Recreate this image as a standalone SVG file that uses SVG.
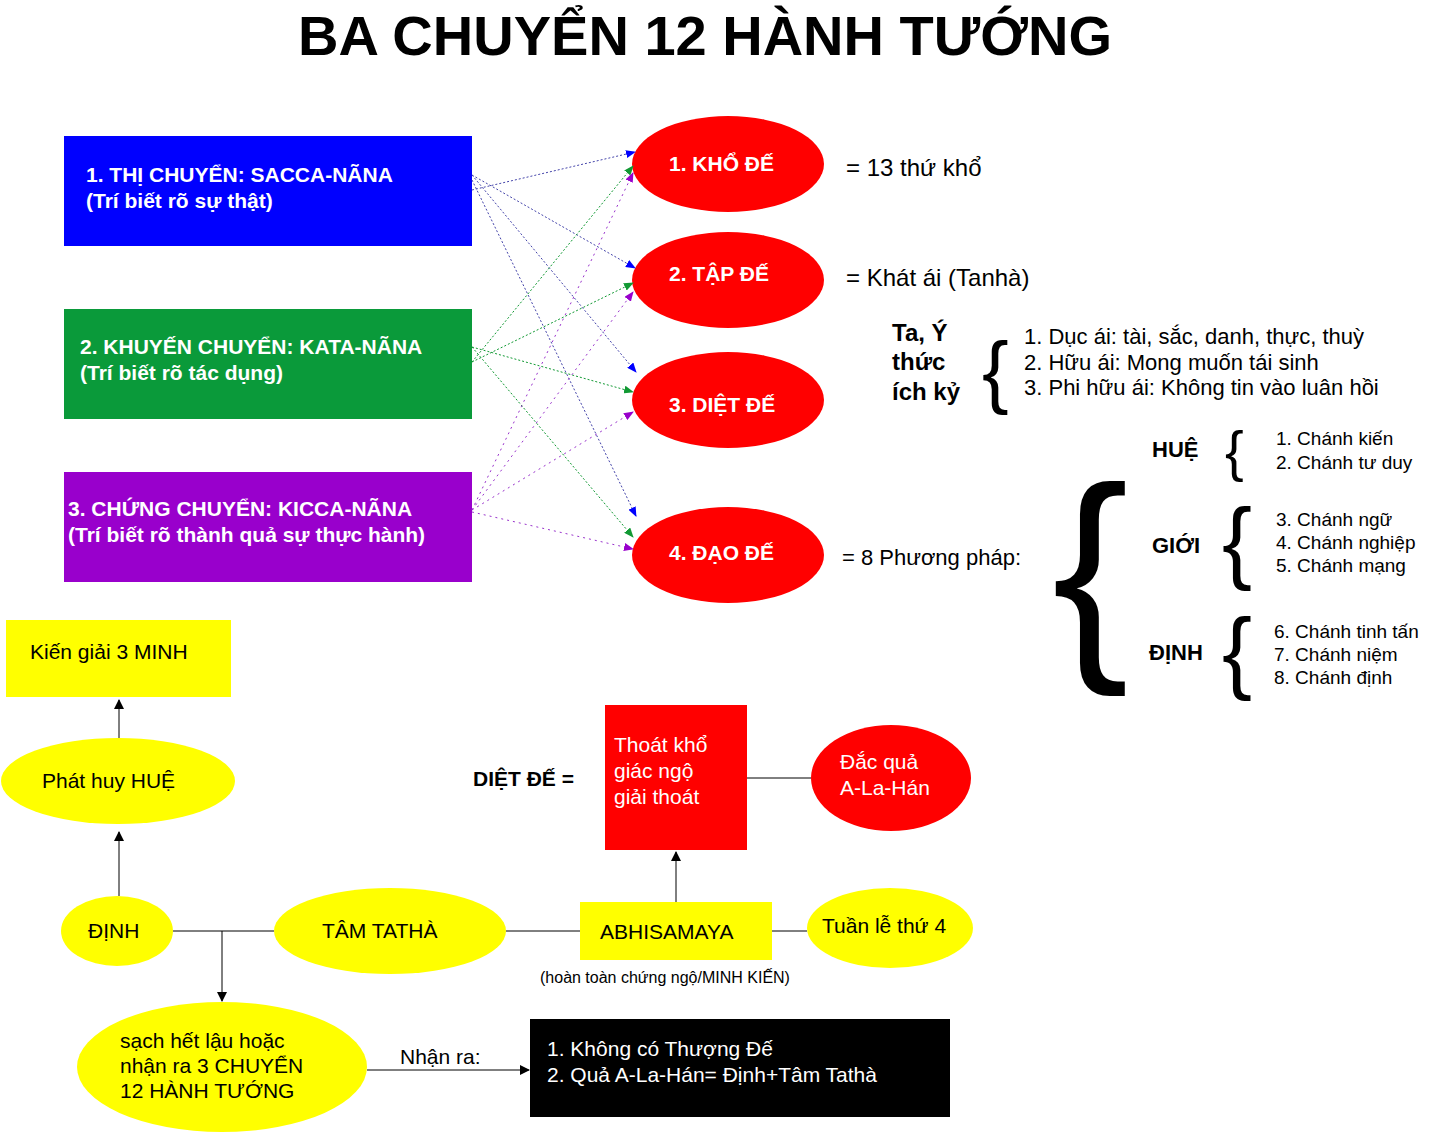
<svg xmlns="http://www.w3.org/2000/svg" width="1430" height="1133" viewBox="0 0 1430 1133">
<style>
text{font-family:"Liberation Sans",Arial,sans-serif;}
.b{font-weight:bold}
.w{fill:#fff}
.ln{stroke:#000;stroke-width:1;fill:none}
</style>
<defs>
<marker id="mb" markerWidth="10" markerHeight="8" refX="9" refY="4" orient="auto" markerUnits="userSpaceOnUse"><path d="M0,0L10,4L0,8z" fill="#0000ff"/></marker>
<marker id="mg" markerWidth="10" markerHeight="8" refX="9" refY="4" orient="auto" markerUnits="userSpaceOnUse"><path d="M0,0L10,4L0,8z" fill="#119933"/></marker>
<marker id="mp" markerWidth="10" markerHeight="8" refX="9" refY="4" orient="auto" markerUnits="userSpaceOnUse"><path d="M0,0L10,4L0,8z" fill="#9900cc"/></marker>
<marker id="mk" markerWidth="10" markerHeight="10" refX="9" refY="5" orient="auto" markerUnits="userSpaceOnUse"><path d="M0,0L10,5L0,10z" fill="#000"/></marker>
</defs>
<rect width="1430" height="1133" fill="#fff"/>
<text x="705" y="55" text-anchor="middle" class="b" font-size="56">BA CHUYỂN 12 HÀNH TƯỚNG</text>

<g id="n1"><rect x="64" y="136" width="408" height="110" fill="#0000ff"/><text x="86" y="182" class="b w" font-size="21">1. THỊ CHUYỂN: SACCA-NÃNA</text><text x="86" y="208" class="b w" font-size="21">(Trí biết rõ sự thật)</text></g>
<g id="n2"><rect x="64" y="309" width="408" height="110" fill="#0a9a3a"/><text x="80" y="354" class="b w" font-size="21">2. KHUYẾN CHUYỂN: KATA-NÃNA</text><text x="80" y="380" class="b w" font-size="21">(Trí biết rõ tác dụng)</text></g>
<g id="n3"><rect x="64" y="472" width="408" height="110" fill="#9900cc"/><text x="68" y="516" class="b w" font-size="21">3. CHỨNG CHUYỂN: KICCA-NÃNA</text><text x="68" y="542" class="b w" font-size="21">(Trí biết rõ thành quả sự thực hành)</text></g>

<g id="e1"><ellipse cx="728" cy="164" rx="96" ry="48" fill="#f00"/><text x="669" y="171" class="b w" font-size="21">1. KHỔ ĐẾ</text></g>
<g id="e2"><ellipse cx="728" cy="280" rx="96" ry="48" fill="#f00"/><text x="669" y="281" class="b w" font-size="21">2. TẬP ĐẾ</text></g>
<g id="e3"><ellipse cx="728" cy="400" rx="96" ry="48" fill="#f00"/><text x="669" y="412" class="b w" font-size="21">3. DIỆT ĐẾ</text></g>
<g id="e4"><ellipse cx="728" cy="555" rx="96" ry="48" fill="#f00"/><text x="669" y="560" class="b w" font-size="21">4. ĐẠO ĐẾ</text></g>

<g id="connectors" stroke-width="1" stroke-dasharray="2,2">
<g stroke="#4444aa">
<line x1="472" y1="190" x2="635" y2="152" marker-end="url(#mb)"/>
<line x1="472" y1="175" x2="635" y2="268" marker-end="url(#mb)"/>
<line x1="472" y1="175" x2="636" y2="372" marker-end="url(#mb)"/>
<line x1="472" y1="180" x2="636" y2="516" marker-end="url(#mb)"/>
</g>
<g stroke="#119933">
<line x1="472" y1="362" x2="633" y2="166" marker-end="url(#mg)"/>
<line x1="472" y1="362" x2="633" y2="283" marker-end="url(#mg)"/>
<line x1="472" y1="347" x2="633" y2="392" marker-end="url(#mg)"/>
<line x1="472" y1="347" x2="633" y2="537" marker-end="url(#mg)"/>
</g>
<g stroke="#9933cc" stroke-dasharray="2,4">
<line x1="472" y1="510" x2="633" y2="173" marker-end="url(#mp)"/>
<line x1="472" y1="510" x2="633" y2="292" marker-end="url(#mp)"/>
<line x1="472" y1="510" x2="633" y2="412" marker-end="url(#mp)"/>
<line x1="472" y1="512" x2="633" y2="549" marker-end="url(#mp)"/>
</g>
</g>

<g id="descs" font-size="24">
<text x="846" y="176">=    13 thứ khổ</text>
<text x="846" y="286">= Khát ái (Tanhà)</text>
<text x="892" y="341" class="b">Ta, Ý</text>
<text x="892" y="370" class="b">thức</text>
<text x="892" y="400" class="b">ích kỷ</text>
<text x="982" y="398" font-size="80">{</text>
<text x="1024" y="344" font-size="22">1.  Dục ái: tài, sắc, danh, thực, thuỳ</text>
<text x="1024" y="370" font-size="22">2.  Hữu ái: Mong muốn tái sinh</text>
<text x="1024" y="395" font-size="22">3.  Phi hữu ái: Không tin vào luân hồi</text>
<text x="842" y="565" font-size="22">=    8 Phương pháp:</text>
<text x="1052" y="648" font-size="230">{</text>
<text x="1152" y="457" class="b" font-size="22">HUỆ</text>
<text x="1225" y="470" font-size="56">{</text>
<text x="1276" y="445" font-size="19">1.  Chánh kiến</text>
<text x="1276" y="469" font-size="19">2.  Chánh tư duy</text>
<text x="1152" y="553" class="b" font-size="22">GIỚI</text>
<text x="1222" y="572" font-size="90">{</text>
<text x="1276" y="526" font-size="19">3. Chánh ngữ</text>
<text x="1276" y="549" font-size="19">4. Chánh nghiệp</text>
<text x="1276" y="572" font-size="19">5. Chánh mạng</text>
<text x="1149" y="660" class="b" font-size="22">ĐỊNH</text>
<text x="1222" y="682" font-size="90">{</text>
<text x="1274" y="638" font-size="19">6. Chánh tinh tấn</text>
<text x="1274" y="661" font-size="19">7. Chánh niệm</text>
<text x="1274" y="684" font-size="19">8. Chánh định</text>
</g>

<g id="k3"><rect x="6" y="620" width="225" height="77" fill="#ffff00"/><text x="30" y="659" font-size="21">Kiến giải 3 MINH</text></g>
<g id="phat"><ellipse cx="118" cy="781" rx="117" ry="43" fill="#ffff00"/><text x="42" y="788" font-size="21">Phát huy HUỆ</text></g>
<g id="dinh"><ellipse cx="117" cy="931" rx="56" ry="35" fill="#ffff00"/><text x="88" y="938" font-size="21">ĐỊNH</text></g>
<g id="tam"><ellipse cx="390" cy="931" rx="116" ry="43" fill="#ffff00"/><text x="322" y="938" font-size="21">TÂM TATHÀ</text></g>
<g id="abhi"><rect x="580" y="902" width="192" height="58" fill="#ffff00"/><text x="600" y="939" font-size="21">ABHISAMAYA</text></g>
<g id="tuan"><ellipse cx="890" cy="928" rx="83" ry="40" fill="#ffff00"/><text x="822" y="933" font-size="21">Tuần lễ thứ 4</text></g>
<text x="540" y="983" font-size="16">(hoàn toàn chứng ngộ/MINH KIẾN)</text>
<text x="473" y="786" class="b" font-size="21">DIỆT ĐẾ =</text>
<g id="thoat"><rect x="605" y="705" width="142" height="145" fill="#f00"/><text x="614" y="752" class="w" font-size="21">Thoát khổ</text><text x="614" y="778" class="w" font-size="21">giác ngộ</text><text x="614" y="804" class="w" font-size="21">giải thoát</text></g>
<g id="dac"><ellipse cx="891" cy="778" rx="80" ry="53" fill="#f00"/><text x="840" y="769" class="w" font-size="21">Đắc quả</text><text x="840" y="795" class="w" font-size="21">A-La-Hán</text></g>
<g id="sach"><ellipse cx="222" cy="1067" rx="145" ry="65" fill="#ffff00"/><text x="120" y="1048" font-size="21">sạch hết lậu hoặc</text><text x="120" y="1073" font-size="21">nhận ra 3 CHUYỂN</text><text x="120" y="1098" font-size="21">12 HÀNH TƯỚNG</text></g>
<g id="black"><rect x="530" y="1019" width="420" height="98" fill="#000"/><text x="547" y="1056" class="w" font-size="21">1.  Không có Thượng Đế</text><text x="547" y="1082" class="w" font-size="21">2.  Quả A-La-Hán= Định+Tâm Tathà</text></g>

<g id="connectors2">
<line class="ln" x1="119" y1="738" x2="119" y2="700" marker-end="url(#mk)"/>
<line class="ln" x1="119" y1="896" x2="119" y2="832" marker-end="url(#mk)"/>
<line class="ln" x1="173" y1="931" x2="274" y2="931"/>
<line class="ln" x1="222" y1="931" x2="222" y2="1001" marker-end="url(#mk)"/>
<line class="ln" x1="506" y1="931" x2="580" y2="931"/>
<line class="ln" x1="772" y1="931" x2="807" y2="931"/>
<line class="ln" x1="676" y1="902" x2="676" y2="852" marker-end="url(#mk)"/>
<line class="ln" x1="747" y1="778" x2="811" y2="778"/>
<line class="ln" x1="367" y1="1070" x2="529" y2="1070" marker-end="url(#mk)"/>
</g>
<text x="400" y="1064" font-size="21">Nhận ra:</text>
</svg>
